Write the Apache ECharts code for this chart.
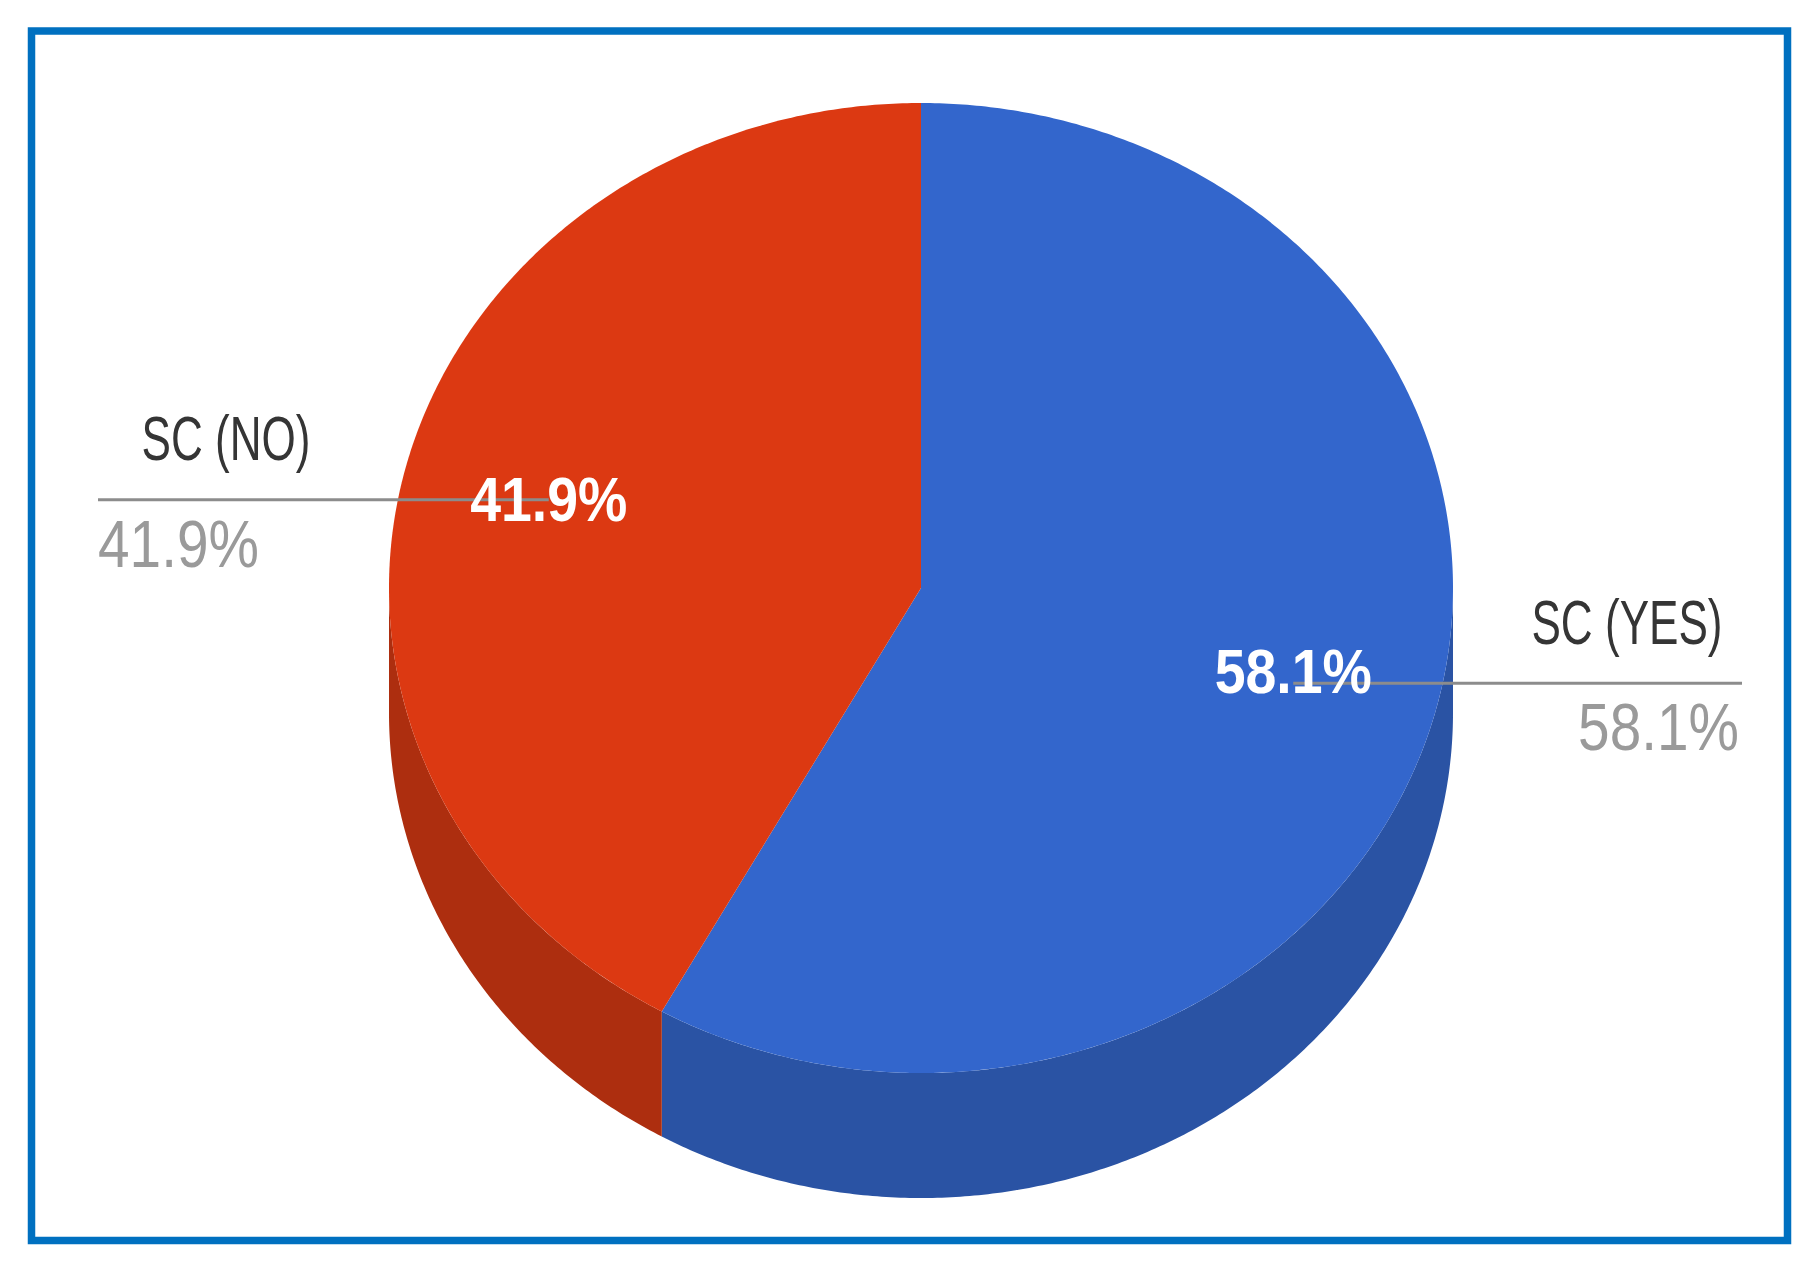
<!DOCTYPE html>
<html>
<head>
<meta charset="utf-8">
<title>SC</title>
<script src="https://cdn.jsdelivr.net/npm/echarts@6/dist/echarts.min.js"></script>
<style>
  html, body { margin: 0; padding: 0; background: #fff; }
  #echart_sc { width: 1811px; height: 1262px; }
</style>
</head>
<body>
<div id="echart_sc"></div>
<script>
  // data
  var names = ['SC (YES)', 'SC (NO)'];
  var values = [58.1, 41.9];
  var topColors = ['#3366CC', '#DC3912'];
  var sideColors = ['#2A53A4', '#AD2E0F'];

  var total = values.reduce(function (a, b) { return a + b; }, 0);

  // layout of the tilted pie (px)
  var cx = 921, cy = 588, rx = 532, ry = 485, depth = 125;
  var lineLeftX = 98, lineRightX = 1742;
  var font = '"Liberation Sans", Arial, sans-serif';

  function ellPt(a, dy) {
      return [cx + rx * Math.sin(a), cy + dy - ry * Math.cos(a)];
  }
  function arcPts(a0, a1, dy) {
      var n = Math.max(2, Math.ceil(Math.abs(a1 - a0) / (Math.PI / 360)));
      var pts = [];
      for (var k = 0; k <= n; k++) {
          pts.push(ellPt(a0 + (a1 - a0) * k / n, dy));
      }
      return pts;
  }

  function renderSlice(params, api) {
      var i = params.dataIndex;
      var before = 0;
      for (var k = 0; k < i; k++) before += values[k];
      var v = api.value(0);
      var a0 = before / total * 2 * Math.PI;
      var a1 = (before + v) / total * 2 * Math.PI;
      var children = [];

      // side wall, only the front half shows
      var s = Math.max(a0, Math.PI / 2), e = Math.min(a1, Math.PI * 1.5);
      if (e > s) {
          children.push({
              type: 'polygon', z2: 1,
              shape: { points: arcPts(s, e, 0).concat(arcPts(e, s, depth)) },
              style: { fill: sideColors[i] }
          });
      }
      // top face
      children.push({
          type: 'polygon', z2: 2,
          shape: { points: [[cx, cy]].concat(arcPts(a0, a1, 0)) },
          style: { fill: topColors[i] }
      });

      // labels
      var mid = (a0 + a1) / 2;
      var lx = cx + 0.723 * rx * Math.sin(mid);
      var ly = cy - 0.723 * ry * Math.cos(mid);
      var right = Math.sin(mid) > 0;
      var pct = (v / total * 100).toFixed(1) + '%';
      var lineY = ly + (right ? 7 : 0);
      var textY = ly - (right ? 5 : 0);

      children.push({
          type: 'line', z2: 3,
          shape: { x1: right ? lx : lineLeftX, y1: lineY, x2: right ? lineRightX : lx, y2: lineY },
          style: { stroke: '#8c8c8c', lineWidth: 3 }
      });
      children.push({
          type: 'text', z2: 4, x: lx, y: textY, scaleX: 0.88,
          style: { text: pct, fill: '#ffffff', font: 'bold 63px ' + font, align: 'center', verticalAlign: 'middle' }
      });
      children.push({
          type: 'text', z2: 4, x: right ? lineRightX - 115 : lineLeftX + 128, y: lineY - 61, scaleX: 0.7,
          style: { text: names[i], fill: '#353535', font: '63px ' + font, align: 'center', verticalAlign: 'middle' }
      });
      children.push({
          type: 'text', z2: 4, x: right ? lineRightX - 3 : lineLeftX, y: lineY + 44, scaleX: 0.86,
          style: { text: pct, fill: '#9a9a9a', font: '66px ' + font, align: right ? 'right' : 'left', verticalAlign: 'middle' }
      });

      return { type: 'group', children: children };
  }

  var dom = document.getElementById('echart_sc');
  var myChart = echarts.init(dom, null, { renderer: 'svg' });
  var option_sc = {
      animation: false,
      graphic: [
          {
              type: 'rect', silent: true,
              shape: { x: 31.5, y: 31, width: 1756, height: 1209.5 },
              style: { fill: 'none', stroke: '#0070C0', lineWidth: 7.5 }
          }
      ],
      series: [
          {
              type: 'custom',
              coordinateSystem: 'none',
              silent: true,
              renderItem: renderSlice,
              data: values.map(function (v, i) { return { name: names[i], value: v }; })
          }
      ]
  };
  myChart.setOption(option_sc, true);
</script>
</body>
</html>
